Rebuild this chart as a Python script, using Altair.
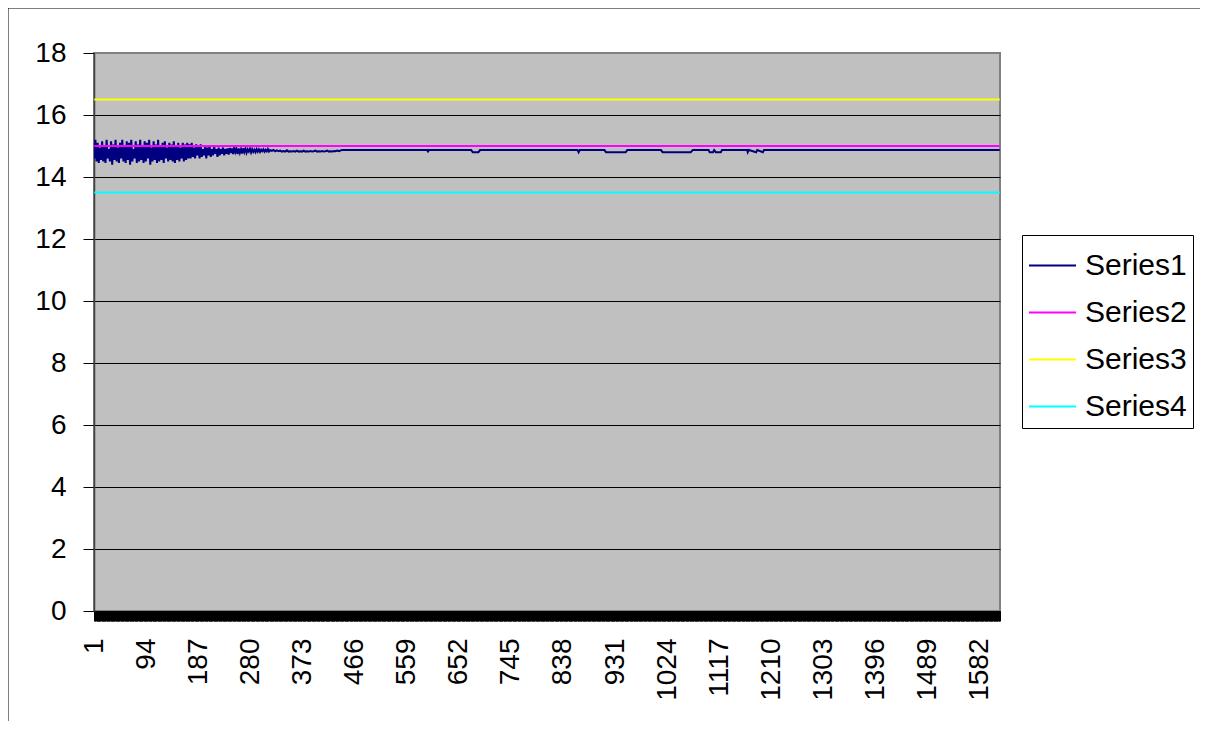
import altair as alt
import pandas as pd

N = 1618
series_names = ["Series1", "Series2", "Series3", "Series4"]
series_colors = ["#000080", "#FF00FF", "#FFFF00", "#00FFFF"]

# Series1, noisy start (index 1..169, every 2nd point)
s1_a_start, s1_a_step = 1, 2
s1_a = [14.6, 15.2, 14.5, 15.1, 14.45, 14.95, 14.55, 15.15, 14.5, 15.0,
        14.45, 15.2, 14.6, 14.9, 14.5, 15.15, 14.4, 15.05, 14.55, 15.2,
        14.5, 14.95, 14.45, 15.1, 14.6, 15.2, 14.5, 15.0, 14.45, 15.15,
        14.55, 15.1, 14.4, 15.2, 14.5, 14.9, 14.6, 15.15, 14.45, 15.05,
        14.5, 15.2, 14.55, 15.0, 14.45, 15.15, 14.5, 15.1, 14.6, 15.2,
        14.4, 14.95, 14.5, 15.15, 14.55, 15.05, 14.45, 15.2, 14.5, 15.0,
        14.55, 15.1, 14.45, 15.15, 14.6, 14.95, 14.5, 15.1, 14.55, 15.05,
        14.5, 15.15, 14.45, 15.0, 14.55, 15.1, 14.5, 14.95, 14.6, 15.1,
        14.5, 15.05, 14.55, 15.1, 14.6]
# index 171..241
s1_b_start, s1_b_step = 171, 2
s1_b = [15.05, 14.6, 15.1, 14.65, 14.95, 14.6, 15.05, 14.7, 15.0, 14.6,
        15.05, 14.65, 14.9, 14.7, 15.0, 14.6, 14.95, 14.7, 15.0, 14.65,
        14.9, 14.7, 15.0, 14.75, 14.9, 14.65, 14.95, 14.7, 14.9, 14.75,
        14.95, 14.7, 14.9, 14.75, 14.92, 14.72]
# index 243..315
s1_c_start, s1_c_step = 243, 2
s1_c = [14.94, 14.77, 14.92, 14.74, 14.96, 14.8, 14.9, 14.74, 14.92, 14.78,
        14.9, 14.76, 14.93, 14.8, 14.91, 14.78, 14.89, 14.82, 14.91, 14.79,
        14.9, 14.81, 14.88, 14.8, 14.9, 14.82, 14.89, 14.81, 14.88, 14.83,
        14.89, 14.82, 14.88, 14.83, 14.9, 14.82, 14.87]
# index 318..441
s1_d_start, s1_d_step = 318, 3
s1_d = [14.84, 14.87, 14.83, 14.86, 14.83, 14.85, 14.82, 14.84, 14.82, 14.86,
        14.82, 14.83, 14.82, 14.84, 14.82, 14.85, 14.82, 14.83, 14.82, 14.85,
        14.82, 14.83, 14.82, 14.84, 14.82, 14.83, 14.85, 14.82, 14.83, 14.82,
        14.84, 14.82, 14.83, 14.85, 14.82, 14.83, 14.82, 14.84, 14.83, 14.85,
        14.83, 14.86]
# flat part with small dips (breakpoints)
s1_e_idx = [444, 596, 597, 598, 674, 677, 687, 690, 864, 866, 868,
            912, 915, 950, 953, 1013, 1016, 1066, 1070,
            1098, 1100, 1106, 1108, 1111, 1120, 1122,
            1167, 1168, 1170, 1183, 1185, 1195, 1197, 1618]
s1_e_val = [14.87, 14.87, 14.8, 14.87, 14.87, 14.8, 14.8, 14.87, 14.87, 14.8, 14.87,
            14.87, 14.8, 14.8, 14.87, 14.87, 14.8, 14.8, 14.87,
            14.87, 14.8, 14.8, 14.87, 14.8, 14.8, 14.87,
            14.87, 14.8, 14.87, 14.8, 14.87, 14.8, 14.87, 14.87]

series2_value = 15.0
series3_value = 16.5
series4_value = 13.5

y_ticks = [0, 2, 4, 6, 8, 10, 12, 14, 16, 18]

rows = []
for start, step, vals in [(s1_a_start, s1_a_step, s1_a), (s1_b_start, s1_b_step, s1_b),
                          (s1_c_start, s1_c_step, s1_c), (s1_d_start, s1_d_step, s1_d)]:
    for k, v in enumerate(vals):
        rows.append({"idx": start + k * step, "value": v, "series": "Series1"})
for i, v in zip(s1_e_idx, s1_e_val):
    rows.append({"idx": i, "value": v, "series": "Series1"})
for name, v in [("Series2", series2_value), ("Series3", series3_value), ("Series4", series4_value)]:
    rows.append({"idx": 1, "value": v, "series": name})
    rows.append({"idx": N, "value": v, "series": name})
df = pd.DataFrame(rows)

FONT = "Liberation Sans"

lines = alt.Chart(df).mark_line(strokeWidth=2, clip=True).encode(
    x=alt.X("idx:Q",
            scale=alt.Scale(domain=[0.5, N + 0.5], nice=False, zero=False),
            axis=alt.Axis(values=list(range(1, N + 1)),
                          labelExpr="(datum.value - 1) % 93 == 0 ? '' + datum.value : ''",
                          labelAngle=270, labelFontSize=28, labelFont=FONT, labelColor="black",
                          labelOverlap=False, labelFlush=False, labelPadding=17,
                          tickSize=10, tickColor="black", tickWidth=1,
                          domainColor="black", domainWidth=1, grid=False, title=None)),
    y=alt.Y("value:Q",
            scale=alt.Scale(domain=[0, 18], nice=False, zero=True),
            axis=alt.Axis(values=y_ticks, labelFontSize=28, labelFont=FONT, labelColor="black",
                          labelPadding=17, tickSize=11, tickColor="black",
                          domainColor="#404040", domainWidth=1.5,
                          grid=True,
                          gridColor={"condition": {"test": "datum.value == 18", "value": "#808080"},
                                     "value": "black"},
                          gridWidth=1, title=None)),
    color=alt.Color("series:N",
                    scale=alt.Scale(domain=series_names, range=series_colors),
                    legend=alt.Legend(orient="none", legendX=928, legendY=182, title=None,
                                      strokeColor="black", fillColor="white", padding=6,
                                      symbolType="stroke", symbolSize=2209, symbolStrokeWidth=2,
                                      labelFontSize=30, labelFont=FONT, labelColor="black",
                                      labelOffset=8, rowPadding=7, labelLimit=300)),
)

frame_data = alt.Data(values=[{"a": 1}])
frame_top = alt.Chart(frame_data).mark_rule(stroke="black", strokeWidth=1).encode(
    x=alt.value(-86), x2=alt.value(1300), y=alt.value(-45))
frame_left = alt.Chart(frame_data).mark_rule(stroke="black", strokeWidth=1).encode(
    x=alt.value(-86), y=alt.value(-45), y2=alt.value(900))

chart = alt.layer(frame_top, frame_left, lines).properties(
    width=906, height=558,
    autosize=alt.AutoSizeParams(type="none"),
    padding={"left": 86, "top": 45, "right": 200, "bottom": 110},
).configure_view(fill="#C0C0C0", stroke="#808080", strokeWidth=2)

chart.save("out.html", embed_options={"renderer": "svg", "actions": False})
